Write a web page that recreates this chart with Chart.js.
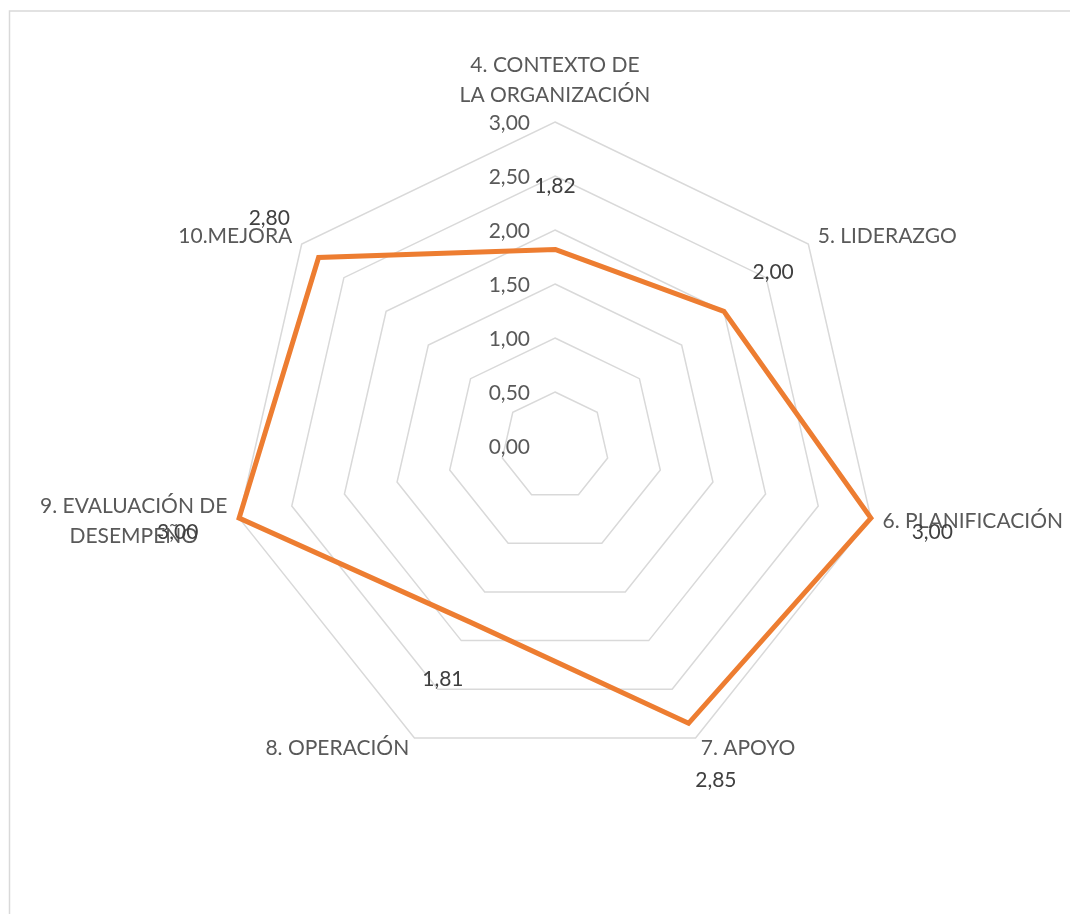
<!DOCTYPE html>
<html lang="es">
<head>
<meta charset="utf-8">
<title>Radar ISO</title>
<script src="https://cdn.jsdelivr.net/npm/chart.js@4/dist/chart.umd.min.js"></script>
<style>
  html, body { margin: 0; padding: 0; background: #fff; }
  #radar { display: block; }
</style>
</head>
<body>
<canvas id="radar" width="1070" height="914"></canvas>
<script>
// ── DATA ────────────────────────────────────────────────────
const categories = [
  ['4. CONTEXTO DE', 'LA ORGANIZACIÓN'],
  '5. LIDERAZGO',
  '6. PLANIFICACIÓN',
  '7. APOYO',
  '8. OPERACIÓN',
  ['9. EVALUACIÓN DE', 'DESEMPEÑO'],
  '10.MEJORA'
];
const scores = [1.82, 2.00, 3.00, 2.85, 1.81, 3.00, 2.80];
const tickValues = [0, 0.5, 1, 1.5, 2, 2.5, 3];

// ── STYLE ───────────────────────────────────────────────────
const FONT = '21px Lato, "Open Sans", sans-serif';
const GREY_TEXT = '#595959';
const DARK_TEXT = '#404040';
const fmt = v => v.toFixed(2).replace('.', ',');

// frame around the chart (only left/top edges fall inside the canvas)
const framePlugin = {
  id: 'frame',
  beforeDraw(chart) {
    const c = chart.ctx;
    c.save();
    c.strokeStyle = '#d9d9d9';
    c.lineWidth = 1.5;
    c.strokeRect(9.5, 11, 2000, 2000);
    c.restore();
  }
};

// tick labels, category labels and value labels
const labelsPlugin = {
  id: 'radarLabels',
  afterDraw(chart) {
    const c = chart.ctx;
    const r = chart.scales.r;
    c.save();
    c.font = FONT;

    // tick labels sit left of the vertical axis
    c.fillStyle = GREY_TEXT;
    c.textAlign = 'right';
    c.textBaseline = 'middle';
    tickValues.forEach(v => {
      const d = r.getDistanceFromCenterForValue(v);
      c.fillText(fmt(v), r.xCenter - 25, r.yCenter - d + 1);
    });

    // category labels outside the outer ring
    const lh = 30;
    categories.forEach((lab, i) => {
      const lines = Array.isArray(lab) ? lab : [lab];
      const p = r.getPointPosition(i, r.drawingArea + 12);
      const dx = p.x - r.xCenter;
      const maxW = Math.max(...lines.map(l => c.measureText(l).width));
      let cx;
      if (Math.abs(dx) < 2) cx = p.x;
      else if (dx > 0) cx = p.x + maxW / 2;
      else cx = p.x - maxW / 2;
      let y0;
      if (i === 0) y0 = p.y - lh / 2 - (lines.length - 1) * lh;
      else y0 = p.y - (lines.length - 1) * lh / 2;
      c.textAlign = 'center';
      c.textBaseline = 'middle';
      lines.forEach((l, k) => c.fillText(l, cx, y0 + k * lh));
    });

    // value labels pushed outward from each point
    c.fillStyle = DARK_TEXT;
    c.textAlign = 'center';
    c.textBaseline = 'middle';
    scores.forEach((v, i) => {
      const p = r.getPointPosition(i, r.getDistanceFromCenterForValue(v) + 63);
      c.fillText(fmt(v), p.x, p.y);
    });
    c.restore();
  }
};

new Chart(document.getElementById('radar'), {
  type: 'radar',
  data: {
    labels: categories,
    datasets: [{
      data: scores,
      borderColor: '#ED7D31',
      borderWidth: 5,
      borderJoinStyle: 'miter',
      backgroundColor: 'transparent',
      fill: false,
      pointRadius: 0,
      pointHoverRadius: 0,
      tension: 0
    }]
  },
  options: {
    responsive: false,
    animation: false,
    layout: { padding: { left: 231, right: 191, top: 122, bottom: 144 } },
    plugins: { legend: { display: false }, tooltip: { enabled: false } },
    scales: {
      r: {
        min: 0,
        max: 3,
        startAngle: 0,
        ticks: { stepSize: 0.5, display: false },
        grid: { color: '#d9d9d9', lineWidth: 1.5 },
        angleLines: { display: false },
        pointLabels: { display: false }
      }
    }
  },
  plugins: [framePlugin, labelsPlugin]
});
</script>
</body>
</html>
